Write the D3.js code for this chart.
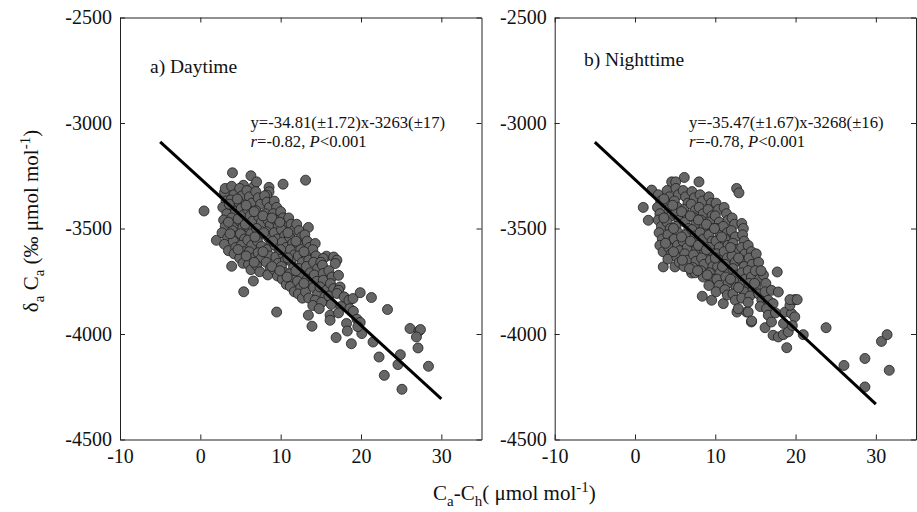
<!DOCTYPE html>
<html>
<head>
<meta charset="utf-8">
<script src="https://cdn.jsdelivr.net/npm/d3@7"></script>
<style>
  body { margin: 0; background: #fff; }
  svg { display: block; }
  text { font-family: "Liberation Serif", "Times New Roman", serif; fill: #111; }
</style>
</head>
<body>
<svg id="chart" width="917" height="512"></svg>
<script>
const xTicks = [-10, 0, 10, 20, 30];
const yTicks = [-4500, -4000, -3500, -3000, -2500];

const panelTitles = ["a) Daytime", "b) Nighttime"];
const equations = ["y=-34.81(\u00b11.72)x-3263(\u00b117)", "y=-35.47(\u00b11.67)x-3268(\u00b116)"];
const rValues = ["-0.82", "-0.78"];
const slopes = [-34.81, -35.47];
const intercepts = [-3263, -3268];
const fitRange = [-5, 30];

// daytime points [Ca-Ch, δaCa]
const dayPoints = [
  [0.46,-3417],[2.0,-3556],[3.9,-3679],[5.4,-3800],[6.6,-3749],
  [3.0,-3330],[3.2,-3370],[2.8,-3400],[3.3,-3430],[2.9,-3460],[3.1,-3490],[2.7,-3520],[3.4,-3545],[3.0,-3575],[3.5,-3605],
  [4.0,-3236],[3.1,-3310],[3.9,-3300],[4.2,-3340],[3.8,-3365],[4.1,-3395],[4.4,-3420],[3.9,-3450],[4.3,-3480],[4.0,-3510],[4.5,-3535],[4.1,-3560],[4.4,-3590],[4.2,-3620],
  [5.36,-3295],[4.9,-3310],[5.2,-3345],[4.8,-3375],[5.1,-3405],[5.4,-3435],[4.9,-3465],[5.3,-3495],[5.0,-3525],[5.5,-3550],[5.1,-3580],[5.4,-3610],[4.9,-3640],[5.3,-3665],
  [6.3,-3250],[6.6,-3303],[5.8,-3320],[6.1,-3350],[6.4,-3380],[5.9,-3410],[6.2,-3440],[6.5,-3465],[6.0,-3495],[6.3,-3525],[5.9,-3555],[6.4,-3580],[6.1,-3610],[6.5,-3640],[6.0,-3670],[6.3,-3695],
  [7.0,-3279],[6.9,-3325],[7.2,-3355],[7.5,-3385],[6.9,-3415],[7.3,-3445],[7.6,-3470],[7.0,-3500],[7.4,-3530],[7.1,-3560],[7.6,-3585],[7.2,-3615],[7.5,-3645],[7.0,-3675],[7.4,-3705],
  [8.55,-3305],[8.55,-3326],[8.27,-3342],[8.0,-3345],[8.3,-3375],[8.6,-3400],[8.1,-3430],[8.4,-3460],[8.7,-3485],[8.2,-3515],[8.5,-3545],[8.8,-3570],[8.3,-3600],[8.6,-3630],[8.2,-3660],[8.7,-3690],[8.4,-3720],
  [9.2,-3370],[9.5,-3400],[9.1,-3430],[9.4,-3460],[9.7,-3490],[9.2,-3520],[9.6,-3550],[9.3,-3580],[9.8,-3605],[9.4,-3635],[9.7,-3665],[9.2,-3695],[9.6,-3725],[9.5,-3896],
  [10.3,-3290],[10.0,-3420],[10.3,-3450],[10.6,-3475],[10.1,-3505],[10.5,-3535],[10.2,-3565],[10.7,-3590],[10.3,-3620],[10.6,-3650],[10.1,-3680],[10.5,-3710],[10.2,-3740],[10.7,-3765],
  [11.0,-3450],[11.3,-3480],[11.6,-3510],[11.1,-3540],[11.5,-3570],[11.2,-3600],[11.7,-3625],[11.3,-3655],[11.6,-3685],[11.1,-3715],[11.5,-3745],[11.2,-3775],[11.7,-3800],
  [12.0,-3480],[12.3,-3510],[12.6,-3540],[12.1,-3570],[12.5,-3600],[12.2,-3630],[12.7,-3660],[12.3,-3690],[12.6,-3720],[12.1,-3750],[12.5,-3780],[12.2,-3810],[12.7,-3830],
  [13.1,-3271],[13.45,-3495],[13.0,-3530],[13.3,-3560],[13.6,-3590],[13.1,-3620],[13.5,-3650],[13.2,-3680],[13.7,-3710],[13.3,-3740],[13.6,-3770],[13.1,-3800],[13.5,-3830],[13.45,-3911],[13.9,-3963],
  [14.3,-3571],[14.0,-3600],[14.4,-3630],[14.1,-3660],[14.6,-3690],[14.2,-3720],[14.5,-3750],[14.1,-3780],[14.6,-3810],[14.3,-3840],[14.0,-3865],
  [15.7,-3631],[15.3,-3642],[15.0,-3660],[15.2,-3674],[15.3,-3713],[15.3,-3745],[14.9,-3777],[15.7,-3793],[15.5,-3825],[15.1,-3850],[14.8,-3880],
  [16.6,-3635],[17.0,-3650],[16.8,-3666],[16.0,-3700],[16.4,-3730],[16.2,-3761],[16.6,-3785],[16.0,-3820],[16.3,-3860],[16.15,-3911],[16.15,-3935],
  [17.2,-3722],[17.4,-3777],[17.2,-3793],[17.0,-3808],[17.9,-3824],[17.5,-3870],[17.2,-3900],[16.9,-4017],
  [18.5,-3840],[19.0,-3832],[18.6,-3880],[18.2,-3950],[18.3,-3986],[18.8,-4046],
  [19.05,-3892],[19.5,-3930],[19.9,-3945],[19.9,-3804],[20.1,-3998],[19.6,-3965],
  [21.3,-3827],[23.3,-3884],[21.5,-4038],[22.25,-4109],[22.9,-4196],[24.6,-4145],[24.9,-4098],[25.1,-4262],
  [26.1,-3974],[27.2,-3986],[27.4,-3979],[26.9,-4014],[27.1,-4066],[28.4,-4153],
  // extra points filling the dense core
  [3.6,-3385],[3.5,-3470],[3.7,-3525],[4.6,-3360],[4.7,-3455],[4.7,-3600],[5.7,-3390],[5.6,-3480],[5.7,-3630],
  [6.7,-3420],[6.8,-3540],[6.7,-3660],[7.8,-3440],[7.9,-3520],[7.8,-3610],[8.9,-3450],[9.0,-3560],[8.9,-3680],
  [9.9,-3470],[10.0,-3600],[9.9,-3700],[10.9,-3520],[10.9,-3640],[10.8,-3730],[11.9,-3560],[11.9,-3700],[12.9,-3610],[12.9,-3760]
];

// nighttime points
const nightPoints = [
  [6.14,-3258],[4.57,-3279],[5.07,-3279],[7.97,-3279],[12.66,-3310],[12.95,-3331],[2.08,-3318],[1.03,-3400],[1.66,-3461],
  [3.52,-3682],[4.98,-3682],[7.06,-3711],[8.38,-3821],[9.55,-3840],[11.0,-3856],[12.7,-3896],[13.9,-3896],[14.5,-3943],
  [2.9,-3340],[3.2,-3370],[2.8,-3400],[3.1,-3430],[2.9,-3460],[3.3,-3490],[3.0,-3520],[3.4,-3550],[3.1,-3580],[3.5,-3610],
  [4.0,-3320],[4.3,-3350],[3.9,-3380],[4.2,-3410],[4.5,-3440],[4.0,-3470],[4.4,-3500],[4.1,-3530],[4.6,-3560],[4.2,-3590],[4.5,-3620],[4.1,-3645],
  [5.1,-3310],[5.4,-3340],[4.9,-3370],[5.3,-3400],[5.0,-3430],[5.5,-3460],[5.1,-3490],[5.4,-3520],[4.9,-3550],[5.3,-3580],[5.6,-3605],[5.2,-3635],[5.5,-3660],
  [6.0,-3320],[6.3,-3350],[6.6,-3380],[6.1,-3410],[6.5,-3440],[6.2,-3470],[6.7,-3500],[6.3,-3530],[6.0,-3560],[6.5,-3590],[6.2,-3620],[6.6,-3650],[6.1,-3680],
  [7.1,-3325],[7.4,-3355],[7.0,-3385],[7.5,-3415],[7.2,-3445],[7.6,-3475],[7.1,-3505],[7.5,-3535],[7.2,-3565],[7.7,-3595],[7.3,-3625],[7.6,-3655],[7.2,-3685],[7.5,-3710],
  [8.1,-3340],[8.4,-3370],[8.0,-3400],[8.5,-3430],[8.2,-3460],[8.6,-3490],[8.1,-3520],[8.5,-3550],[8.2,-3580],[8.7,-3610],[8.3,-3640],[8.6,-3670],[8.2,-3700],[8.5,-3730],
  [9.2,-3350],[9.5,-3380],[9.1,-3410],[9.6,-3440],[9.3,-3470],[9.7,-3500],[9.2,-3530],[9.6,-3560],[9.3,-3590],[9.8,-3620],[9.4,-3650],[9.7,-3680],[9.3,-3710],[9.6,-3740],[9.2,-3770],
  [10.1,-3380],[10.4,-3410],[10.0,-3440],[10.5,-3470],[10.2,-3500],[10.6,-3530],[10.1,-3560],[10.5,-3590],[10.2,-3620],[10.7,-3650],[10.3,-3680],[10.6,-3710],[10.2,-3740],[10.5,-3770],[10.1,-3800],
  [11.1,-3400],[11.4,-3430],[11.6,-3461],[11.0,-3490],[11.5,-3520],[11.2,-3550],[11.6,-3580],[11.1,-3610],[11.5,-3640],[11.2,-3670],[11.7,-3700],[11.3,-3730],[11.6,-3760],[11.2,-3790],[11.5,-3815],
  [12.1,-3450],[12.4,-3480],[12.0,-3510],[12.5,-3540],[12.2,-3570],[12.6,-3600],[12.1,-3630],[12.5,-3660],[12.2,-3690],[12.7,-3720],[12.3,-3750],[12.6,-3780],[12.2,-3810],[12.5,-3840],
  [13.3,-3476],[13.5,-3500],[13.4,-3530],[13.6,-3560],[13.3,-3590],[13.7,-3620],[13.2,-3650],[13.6,-3680],[13.3,-3710],[13.7,-3740],[13.2,-3770],[13.6,-3800],[13.3,-3830],[12.86,-3880],
  [14.1,-3580],[14.5,-3610],[14.2,-3640],[14.6,-3670],[14.1,-3700],[14.5,-3730],[14.2,-3760],[14.7,-3790],[14.3,-3820],[14.1,-3850],[14.1,-3896],[14.53,-3938],
  [15.1,-3620],[15.4,-3660],[15.0,-3700],[15.5,-3740],[15.1,-3780],[15.4,-3810],[15.8,-3840],[15.6,-3870],
  [16.0,-3720],[16.3,-3760],[16.2,-3800],[16.6,-3840],[16.4,-3880],[16.6,-3911],[16.2,-3970],
  [17.72,-3706],[17.0,-3793],[17.85,-3801],[17.2,-3856],[17.5,-3900],[17.0,-3943],[17.2,-4006],[17.85,-4014],
  [18.47,-4003],[19.09,-3990],[18.7,-3896],[19.5,-3903],[19.9,-3919],[19.3,-3864],[19.9,-3837],[19.3,-3837],[18.9,-4065],[20.96,-4003],[20.2,-3837],[18.5,-3950],[19.6,-3960],
  [23.8,-3970],[26.03,-4149],[28.64,-4116],[28.64,-4251],[30.7,-4035],[31.4,-4003],[31.67,-4172],
  // extra points filling the dense core
  [3.6,-3360],[3.6,-3450],[3.8,-3570],[4.7,-3390],[4.8,-3500],[4.8,-3610],[5.8,-3420],[5.8,-3540],[5.9,-3650],
  [6.9,-3440],[6.9,-3560],[6.8,-3690],[7.9,-3460],[7.9,-3580],[7.8,-3700],[8.9,-3480],[8.9,-3600],[9.0,-3720],
  [9.9,-3500],[10.0,-3640],[10.8,-3540],[10.9,-3680],[11.9,-3590],[11.9,-3740],[12.9,-3640],[12.9,-3780],[14.9,-3760],[15.7,-3700]
];

const svg = d3.select("#chart");
const plotTop = 17.5, plotBottom = 439.5;
const panels = [
  {left: 120, right: 481.5, points: dayPoints, titleX: 150, titleY: 73, eqX: 250.5},
  {left: 554.7, right: 916, points: nightPoints, titleX: 584, titleY: 65.5, eqX: 689}
];

const lineGen = d3.line();
const fmt = d => String(d);

panels.forEach((p, i) => {
  const x = d3.scaleLinear().domain([-10, 35]).range([p.left, p.right]);
  const y = d3.scaleLinear().domain([-4500, -2500]).range([plotBottom, plotTop]);
  const g = svg.append("g");

  g.append("g").selectAll("circle")
    .data(p.points)
    .join("circle")
    .attr("cx", d => x(d[0]))
    .attr("cy", d => y(d[1]))
    .attr("r", 5)
    .attr("fill", "#666")
    .attr("stroke", "#1e1e1e")
    .attr("stroke-width", 0.8);

  // regression line
  g.append("path")
    .attr("d", lineGen(fitRange.map(v => [x(v), y(slopes[i] * v + intercepts[i])])))
    .attr("stroke", "#000")
    .attr("stroke-width", 3)
    .attr("fill", "none");

  const axB = g.append("g").attr("transform", `translate(0,${plotBottom})`)
    .call(d3.axisBottom(x).tickValues(xTicks).tickSize(-5).tickSizeOuter(0).tickPadding(9).tickFormat(fmt));
  const axT = g.append("g").attr("transform", `translate(0,${plotTop})`)
    .call(d3.axisTop(x).tickValues(xTicks).tickSize(-5).tickSizeOuter(0).tickFormat(""));
  const axL = g.append("g").attr("transform", `translate(${p.left},0)`)
    .call(d3.axisLeft(y).tickValues(yTicks).tickSize(-5).tickSizeOuter(0).tickPadding(8).tickFormat(fmt));
  const axR = g.append("g").attr("transform", `translate(${p.right},0)`)
    .call(d3.axisRight(y).tickValues(yTicks).tickSize(-5).tickSizeOuter(0).tickFormat(""));
  [axB, axT, axL, axR].forEach(a => {
    a.selectAll("path, line").attr("stroke", "#222").attr("stroke-width", 1);
    a.selectAll("text").attr("fill", "#111").style("font-size", "20px");
  });

  g.append("text")
    .attr("x", p.titleX).attr("y", p.titleY)
    .style("font-size", "19.5px")
    .text(panelTitles[i]);

  g.append("text")
    .attr("x", p.eqX).attr("y", 128)
    .style("font-size", "16.7px")
    .text(equations[i]);

  const r = g.append("text")
    .attr("x", p.eqX).attr("y", 146.5)
    .style("font-size", "16.7px");
  r.append("tspan").style("font-style", "italic").text("r");
  r.append("tspan").text("=" + rValues[i] + ", ");
  r.append("tspan").style("font-style", "italic").text("P");
  r.append("tspan").text("<0.001");
});

// y axis title
const yt = svg.append("text")
  .attr("transform", "translate(38,221) rotate(-90)")
  .attr("text-anchor", "middle")
  .style("font-size", "21px");
yt.append("tspan").text("\u03b4");
yt.append("tspan").attr("dy", 6).style("font-size", "15px").text("a");
yt.append("tspan").attr("dy", -6).text(" C");
yt.append("tspan").attr("dy", 6).style("font-size", "15px").text("a");
yt.append("tspan").attr("dy", -6).text(" (\u2030 \u03bcmol mol");
yt.append("tspan").attr("dy", -8).style("font-size", "15px").text("-1");
yt.append("tspan").attr("dy", 8).text(")");

// x axis title
const xt = svg.append("text")
  .attr("x", 433).attr("y", 500)
  .style("font-size", "21px");
xt.append("tspan").text("C");
xt.append("tspan").attr("dy", 6).style("font-size", "15px").text("a");
xt.append("tspan").attr("dy", -6).text("-C");
xt.append("tspan").attr("dy", 6).style("font-size", "15px").text("h");
xt.append("tspan").attr("dy", -6).text("( \u03bcmol mol");
xt.append("tspan").attr("dy", -8).style("font-size", "15px").text("-1");
xt.append("tspan").attr("dy", 8).text(")");
</script>
</body>
</html>
